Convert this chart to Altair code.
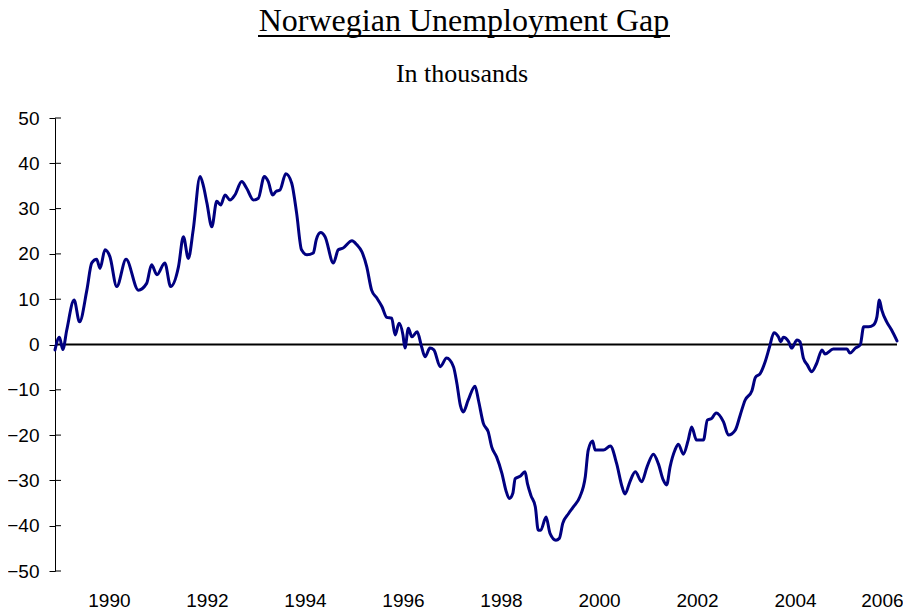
import altair as alt
import pandas as pd

# Decimal year and value (thousands)
years = [
    1988.90, 1988.99, 1989.06, 1989.14, 1989.29, 1989.40, 1989.55, 1989.65, 1989.75, 1989.82,
    1989.92, 1990.02, 1990.16, 1990.35, 1990.60, 1990.77, 1990.87, 1990.98, 1991.14, 1991.26,
    1991.42, 1991.52, 1991.62, 1991.72, 1991.86, 1991.93, 1992.00, 1992.10, 1992.20, 1992.28,
    1992.37, 1992.47, 1992.57, 1992.71, 1992.81, 1992.95, 1993.05, 1993.17, 1993.25, 1993.34,
    1993.41, 1993.49, 1993.61, 1993.73, 1993.83, 1993.93, 1994.04, 1994.17, 1994.23, 1994.32,
    1994.41, 1994.58, 1994.68, 1994.78, 1994.96, 1995.06, 1995.16, 1995.26, 1995.36, 1995.47,
    1995.57, 1995.67, 1995.77, 1995.84, 1995.92, 1996.00, 1996.04, 1996.11, 1996.18, 1996.29,
    1996.38, 1996.45, 1996.55, 1996.63, 1996.76, 1996.89, 1997.03, 1997.10, 1997.17, 1997.23,
    1997.33, 1997.47, 1997.54, 1997.64, 1997.74, 1997.81, 1997.91, 1998.02, 1998.10, 1998.17,
    1998.24, 1998.29, 1998.39, 1998.49, 1998.54, 1998.61, 1998.70, 1998.76, 1998.81, 1998.92,
    1999.00, 1999.12, 1999.19, 1999.26, 1999.38, 1999.48, 1999.61, 1999.72, 1999.78, 1999.87,
    1999.92, 2000.09, 2000.23, 2000.36, 2000.47, 2000.53, 2000.63, 2000.74, 2000.87, 2000.98,
    2001.11, 2001.21, 2001.31, 2001.38, 2001.45, 2001.55, 2001.62, 2001.72, 2001.82, 2001.89,
    2001.99, 2002.13, 2002.21, 2002.30, 2002.39, 2002.54, 2002.64, 2002.78, 2002.88, 2002.98,
    2003.12, 2003.19, 2003.29, 2003.39, 2003.48, 2003.57, 2003.66, 2003.71, 2003.76, 2003.87,
    2003.93, 2004.04, 2004.10, 2004.17, 2004.25, 2004.34, 2004.44, 2004.55, 2004.61, 2004.78,
    2005.06, 2005.12, 2005.23, 2005.33, 2005.40, 2005.50, 2005.60, 2005.67, 2005.72, 2005.77,
    2005.87, 2005.97, 2006.08,
]
gap = [
    -1.2, 1.6, -1.1, 3.2, 9.8, 5.0, 12.0, 18.0, 18.8, 16.8,
    20.9, 19.4, 12.8, 18.8, 12.0, 13.5, 17.6, 15.4, 18.0, 12.8,
    17.2, 23.8, 19.0, 25.3, 37.1, 34.9, 31.2, 26.0, 31.6, 30.8,
    33.0, 31.9, 33.0, 36.0, 34.5, 31.9, 32.3, 37.1, 36.0, 33.0,
    33.8, 34.1, 37.7, 35.6, 29.0, 20.9, 19.8, 20.2, 23.1, 24.7,
    23.8, 18.0, 20.9, 21.3, 22.9, 22.0, 20.5, 17.2, 12.0, 10.2,
    8.4, 6.0, 5.8, 2.1, 4.7, 2.1, -0.8, 3.6, 1.7, 2.8,
    -0.5, -2.7, -0.8, -1.2, -4.9, -3.0, -4.9, -8.6, -13.4, -14.9,
    -12.3, -9.2, -12.3, -17.4, -19.3, -22.6, -24.8, -28.5, -32.2, -34.0,
    -32.9, -29.6, -29.1, -28.1, -30.7, -33.3, -35.8, -41.0, -41.0, -38.1,
    -41.7, -43.2, -42.8, -39.5, -37.3, -35.8, -33.6, -29.2, -23.3, -21.3,
    -23.3, -23.3, -22.4, -26.3, -31.4, -33.0, -30.3, -28.1, -30.3, -27.0,
    -24.2, -26.3, -29.9, -31.0, -27.0, -23.3, -22.0, -24.2, -21.1, -18.2,
    -21.1, -21.1, -16.7, -16.3, -15.1, -17.1, -20.0, -18.9, -15.6, -12.3,
    -10.2, -7.3, -6.4, -3.8, -0.5, 2.6, 1.7, 0.6, 1.6, 0.6,
    -0.8, 1.0, 0.6, -3.0, -4.5, -6.0, -4.2, -1.2, -2.1, -1.0,
    -1.0, -1.9, -0.8, -0.1, 3.9, 3.9, 4.3, 6.1, 9.8, 7.6,
    5.0, 3.2, 0.8,
]
x_labels = [1990, 1992, 1994, 1996, 1998, 2000, 2002, 2004, 2006]
y_ticks = [-50, -40, -30, -20, -10, 0, 10, 20, 30, 40, 50]
title_text = "Norwegian Unemployment Gap"
subtitle_text = "In thousands"

df = pd.DataFrame({"year": years, "gap": gap})
ticks_df = pd.DataFrame({"t": y_ticks})
one_df = pd.DataFrame({"z": [0]})

x_scale = alt.Scale(domain=[years[0], years[-1]], nice=False, zero=False)
y_scale = alt.Scale(domain=[-50, 50], nice=False)

line = alt.Chart(df).mark_line(color="#000080", strokeWidth=3, strokeJoin="round",
                               strokeCap="round", interpolate="monotone").encode(
    x=alt.X("year:Q", scale=x_scale, title=None,
            axis=alt.Axis(values=x_labels, format="d", ticks=False, tickSize=0, domain=False,
                          grid=False, labelPadding=20, labelFont="Liberation Sans",
                          labelFontSize=19, labelColor="black",
                          labelFlush=10, labelFlushOffset=10)),
    y=alt.Y("gap:Q", scale=y_scale, title=None,
            axis=alt.Axis(values=y_ticks, grid=False, tickSize=6, tickColor="black",
                          domainColor="black", tickWidth=1, domainWidth=1, labelPadding=10,
                          labelFont="Liberation Sans", labelFontSize=19, labelColor="black")),
)

zero = alt.Chart(one_df).mark_rule(color="black", strokeWidth=2).encode(
    y=alt.Y("z:Q", scale=y_scale)
)

inner_ticks = alt.Chart(ticks_df).mark_rule(color="black", strokeWidth=1).encode(
    y=alt.Y("t:Q", scale=y_scale),
    x=alt.value(0),
    x2=alt.value(6),
)

title = alt.Chart(one_df).mark_text(
    font="Liberation Serif", fontSize=32, color="black", baseline="alphabetic", align="center"
).encode(text=alt.value(title_text), x=alt.value(409), y=alt.value(-87))

underline = alt.Chart(one_df).mark_rule(color="black", strokeWidth=2).encode(
    x=alt.value(203), x2=alt.value(615), y=alt.value(-82)
)

subtitle = alt.Chart(one_df).mark_text(
    font="Liberation Serif", fontSize=26, color="black", baseline="alphabetic", align="center"
).encode(text=alt.value(subtitle_text), x=alt.value(407), y=alt.value(-36))

chart = alt.layer(zero, inner_ticks, line, title, underline, subtitle).properties(
    width=842,
    height=453,
    background="white",
    autosize=alt.AutoSizeParams(type="none"),
    padding={"left": 47, "top": 110, "right": 6, "bottom": 44},
).configure_view(strokeWidth=0, stroke="transparent")

chart.save("out.html", embed_options={"renderer": "svg", "actions": False})
